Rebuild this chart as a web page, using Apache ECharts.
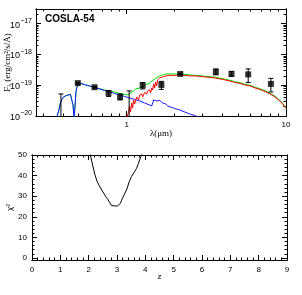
<!DOCTYPE html>
<html><head><meta charset="utf-8">
<script src="https://cdn.jsdelivr.net/npm/echarts@6/dist/echarts.min.js"></script>
<style>html,body{margin:0;padding:0;background:#fff}#c{width:302px;height:295px}</style>
</head><body><div id="c"></div>
<script>
// ---------- DATA ----------
const titleText = 'COSLA-54';

// Top panel (SED): wavelength in micron, flux in erg/cm2/s/A
const blueLambda = [0.363,0.376,0.384,0.394,0.401,0.413,0.428,0.444,0.454,0.461,0.468,0.475,0.481,0.488,0.499,0.514,0.529,0.553,0.585,0.629,0.676,0.727,0.782,0.840,0.904,0.971,1.044,1.123,1.207,1.297,1.395,1.436,1.457,1.478,1.500,1.521,1.544,1.566,1.613,1.636,1.660,1.684,1.759,1.811,1.864,2.004,2.155,2.317,2.491,2.678,2.80];
const blueFlux = [0.85e-20,1.57e-20,2.65e-20,3.58e-20,4.16e-20,4.48e-20,4.83e-20,5.02e-20,4.48e-20,2.28e-20,0.85e-20,2.28e-20,6.05e-20,8.81e-20,1.063e-19,1.146e-19,1.103e-19,1.023e-19,9.49e-20,8.5e-20,7.58e-20,6.77e-20,6.05e-20,5.41e-20,4.83e-20,4.32e-20,3.86e-20,3.45e-20,3.08e-20,2.65e-20,2.28e-20,2.12e-20,2.65e-20,3.32e-20,3.08e-20,3.58e-20,3.08e-20,3.45e-20,3.2e-20,2.86e-20,3.08e-20,2.65e-20,2.46e-20,2.12e-20,2.04e-20,1.75e-20,1.57e-20,1.35e-20,1.16e-20,1.04e-20,0.93e-20];

const greenLambda = [0.363,0.376,0.384,0.394,0.413,0.444,0.454,0.461,0.468,0.475,0.481,0.488,0.499,0.514,0.553,0.629,0.727,0.782,0.840,0.904,0.971,1.015,1.044,1.091,1.139,1.207,1.261,1.317,1.395,1.457,1.521,1.613,1.684,1.759,1.864,2.004,2.155,2.317,2.491,2.678,2.879,3.095,3.327,3.577,3.846,4.135,4.445,4.779,5.138,5.523,5.938,6.384,6.863,7.378,7.932,8.527,8.90,9.29,9.57,9.86,10.0];
const greenFlux = [0.85e-20,1.57e-20,2.65e-20,3.58e-20,4.48e-20,5.02e-20,4.48e-20,2.28e-20,0.85e-20,2.28e-20,6.05e-20,8.81e-20,1.063e-19,1.146e-19,1.023e-19,8.5e-20,7.03e-20,6.53e-20,6.05e-20,5.41e-20,5.02e-20,4.83e-20,5.21e-20,6.05e-20,7.58e-20,8.17e-20,8.81e-20,1.023e-19,1.189e-19,1.43e-19,1.66e-19,2.01e-19,2.17e-19,2.33e-19,2.33e-19,2.33e-19,2.33e-19,2.25e-19,2.17e-19,2.09e-19,2.04e-19,1.96e-19,1.90e-19,1.82e-19,1.70e-19,1.57e-19,1.45e-19,1.30e-19,1.21e-19,1.08e-19,1.0e-19,8.6e-20,7.7e-20,6.6e-20,5.5e-20,4.4e-20,3.6e-20,3.0e-20,2.5e-20,2.0e-20,1.85e-20];

const redLambda = [1.0,1.029,1.044,1.059,1.075,1.091,1.106,1.123,1.156,1.190,1.207,1.243,1.261,1.297,1.336,1.355,1.395,1.415,1.436,1.457,1.478,1.500,1.521,1.544,1.566,1.613,1.684,1.759,1.864,2.004,2.155,2.317,2.491,2.678,2.879,3.095,3.327,3.577,3.846,4.135,4.445,4.779,5.138,5.523,5.938,6.384,6.863,7.378,7.932,8.527,8.90,9.29,9.57,9.86,10.0];
const redFlux = [0.85e-20,1.35e-20,2.12e-20,1.35e-20,2.65e-20,1.82e-20,3.32e-20,2.46e-20,4.16e-20,3.32e-20,4.83e-20,5.21e-20,4.16e-20,5.83e-20,5.21e-20,6.53e-20,7.03e-20,5.62e-20,8.17e-20,7.03e-20,1.103e-19,8.17e-20,1.28e-19,9.49e-20,1.49e-19,1.73e-19,1.86e-19,2.01e-19,2.09e-19,2.09e-19,2.17e-19,2.09e-19,2.01e-19,2.01e-19,1.94e-19,1.86e-19,1.80e-19,1.73e-19,1.61e-19,1.49e-19,1.38e-19,1.23e-19,1.146e-19,1.023e-19,9.49e-20,8.17e-20,7.29e-20,6.29e-20,5.21e-20,4.16e-20,3.45e-20,2.86e-20,2.37e-20,1.89e-20,1.75e-20];

// Photometry
const obsLambda = [0.494,0.629,0.770,0.910,1.261,1.652,2.17,3.63,4.55,5.79,8.04];
const obsFlux   = [1.17e-19,8.6e-20,5.62e-20,4.16e-20,9.85e-20,1.023e-19,2.33e-19,2.71e-19,2.33e-19,2.25e-19,1.103e-19];
const obsLow    = [1.10e-19,8.1e-20,4.32e-20,3.32e-20,7.58e-20,7.29e-20,2.20e-19,2.17e-19,1.94e-19,1.23e-19,6.05e-20];
const obsHigh   = [1.25e-19,9.1e-20,6.53e-20,5.21e-20,1.23e-19,1.33e-19,2.47e-19,3.39e-19,2.81e-19,3.39e-19,1.67e-19];
// Upper-limit style bars (top of bar)
const limLambda = [0.387,1.037];
const limTop    = [5.21e-20,6.53e-20];

// Bottom panel: chi^2 vs z
const zVals   = [2.03,2.06,2.10,2.15,2.22,2.30,2.38,2.46,2.55,2.62,2.69,2.74,2.80,2.85,2.90,2.96,3.02,3.08,3.12,3.16,3.21,3.28,3.35,3.43,3.51,3.60,3.69,3.76,3.82,3.87,3.90];
const chiVals = [53,50,47.5,44.5,40.5,37,35,33,31,29.5,28.2,27,25.5,24.9,25.3,25.4,25.2,25.5,26.5,28,29.5,31.5,33.5,37,39.5,41.5,43.5,46,48.5,50,52];

// Tick values / labels
const lamMajor = [1,10];
const lamMinor = [0.3,0.4,0.5,0.6,0.7,0.8,0.9,2,3,4,5,6,7,8,9];
const fluxMajor = [1e-20,1e-19,1e-18,1e-17];
const fluxMinor = [];
[1e-20,1e-19,1e-18,1e-17].forEach(d=>{for(let k=2;k<=9;k++) fluxMinor.push(k*d);});
const zMajor = [0,1,2,3,4,5,6,7,8,9];
const zMinor = [];
for(let i=0;i<45;i++){ if(i%5) zMinor.push(+(i*0.2).toFixed(1)); }
const chiMajor = [0,10,20,30,40,50];
const chiMinor = [];
for(let v=0;v<50;v+=2){ if(v%10) chiMinor.push(v); }

const LAM_MIN=0.27, LAM_MAX=10, F_MIN=1e-20, F_MAX=3e-17;
const Z_MIN=0, Z_MAX=9, CHI_MIN=-1, CHI_MAX=50;

// ---------- CHART ----------
const chart = echarts.init(document.getElementById('c'), null, {renderer:'canvas'});
const FONT = 'Liberation Sans';
const lineStyle = {color:'#000', width:1};
function powLabel(v){ const e=Math.round(Math.log10(v)); return '{b|10}{s|'+(e<0?'−':'')+Math.abs(e)+'}'; }

function axis(grid, type, min, max, pos, ticks, len, labels, extra){
  const a = {
    gridIndex:grid, type:type, min:min, max:max, position:pos,
    axisLine:{show:true, onZero:false, lineStyle:lineStyle},
    axisTick:{show:true, inside:true, length:len, customValues:ticks, lineStyle:lineStyle},
    axisLabel:labels ? Object.assign({show:true, customValues:labels, color:'#000', fontSize:8, fontFamily:FONT}, labels.opts||{}) : {show:false},
    splitLine:{show:false}, minorTick:{show:false}, minorSplitLine:{show:false},
    nameMoveOverlap:false,
    silent:true
  };
  if(type==='log') a.logBase=10;
  return Object.assign(a, extra||{});
}
function lbl(values, opts){ const v = values.slice(); v.opts = opts; return v; }

const xAxes = [
  axis(0,'log',LAM_MIN,LAM_MAX,'bottom',lamMajor,5,lbl(lamMajor,{margin:5,formatter:v=>String(Math.round(v))}),
       {name:'λ(μm)', nameLocation:'middle', nameGap:13, nameTextStyle:{fontSize:9, fontFamily:'Liberation Serif', color:'#000'}}),
  axis(0,'log',LAM_MIN,LAM_MAX,'bottom',lamMinor,2.5,null),
  axis(0,'log',LAM_MIN,LAM_MAX,'top',lamMajor,5,null),
  axis(0,'log',LAM_MIN,LAM_MAX,'top',lamMinor,2.5,null),
  axis(1,'value',Z_MIN,Z_MAX,'bottom',zMajor,5,lbl(zMajor,{margin:6,formatter:v=>String(v)}),
       {name:'z', nameLocation:'middle', nameGap:13, nameTextStyle:{fontSize:8, fontFamily:FONT, color:'#000'}}),
  axis(1,'value',Z_MIN,Z_MAX,'bottom',zMinor,2.5,null),
  axis(1,'value',Z_MIN,Z_MAX,'top',zMajor,5,null),
  axis(1,'value',Z_MIN,Z_MAX,'top',zMinor,2.5,null)
];
const yAxes = [
  axis(0,'log',F_MIN,F_MAX,'left',fluxMajor,5,lbl(fluxMajor,{margin:4,formatter:powLabel,
        rich:{b:{fontSize:9,fontFamily:FONT,color:'#000',verticalAlign:'bottom',padding:[3,0,0,0]},
              s:{fontSize:7,fontFamily:FONT,color:'#000',verticalAlign:'top'}}}),
       {name:'{a|F}{b|λ} (erg/cm²/s/Å)', nameLocation:'middle', nameGap:24,
        nameTextStyle:{fontSize:9, fontFamily:'Liberation Serif', color:'#000',
          rich:{a:{fontSize:9,fontFamily:'Liberation Serif',color:'#000'}, b:{fontSize:6,fontFamily:'Liberation Serif',color:'#000',padding:[3,0,0,0]}}}}),
  axis(0,'log',F_MIN,F_MAX,'left',fluxMinor,2.5,null),
  axis(0,'log',F_MIN,F_MAX,'right',fluxMajor,5,null),
  axis(0,'log',F_MIN,F_MAX,'right',fluxMinor,2.5,null),
  axis(1,'value',CHI_MIN,CHI_MAX,'left',chiMajor,5,lbl(chiMajor,{margin:5,formatter:v=>String(v)}),
       {name:'χ²', nameLocation:'middle', nameGap:18, nameTextStyle:{fontSize:8, fontFamily:FONT, color:'#000'}}),
  axis(1,'value',CHI_MIN,CHI_MAX,'left',chiMinor,2.5,null),
  axis(1,'value',CHI_MIN,CHI_MAX,'right',chiMajor,5,null),
  axis(1,'value',CHI_MIN,CHI_MAX,'right',chiMinor,2.5,null)
];

function zip(a,b){ return a.map((v,i)=>[v,b[i]]); }
function errRender(params, api){
  const x=api.value(0), lo=api.value(1), hi=api.value(2);
  const p1=api.coord([x,lo]), p2=api.coord([x,hi]); const w=2.5;
  const st={stroke:'#000', lineWidth:1};
  return {type:'group', children:[
    {type:'line', shape:{x1:p1[0],y1:p1[1],x2:p2[0],y2:p2[1]}, style:st},
    {type:'line', shape:{x1:p1[0]-w,y1:p1[1],x2:p1[0]+w,y2:p1[1]}, style:st},
    {type:'line', shape:{x1:p2[0]-w,y1:p2[1],x2:p2[0]+w,y2:p2[1]}, style:st}
  ]};
}
function limRender(params, api){
  const x=api.value(0), top=api.value(1);
  const p1=api.coord([x,F_MIN]), p2=api.coord([x,top]); const w=2.5;
  const st={stroke:'#000', lineWidth:1};
  return {type:'group', children:[
    {type:'line', shape:{x1:p1[0],y1:p1[1],x2:p2[0],y2:p2[1]}, style:st},
    {type:'line', shape:{x1:p2[0]-w,y1:p2[1],x2:p2[0]+w,y2:p2[1]}, style:st}
  ]};
}

const option = {
  animation:false,
  backgroundColor:'#fff',
  title:{text:titleText, left:45, top:14, padding:0, textStyle:{fontSize:10, fontWeight:'bold', fontFamily:FONT, color:'#000'}},
  grid:[
    {left:36, top:9, width:250, height:107, show:false, containLabel:false, outerBoundsMode:'none'},
    {left:32, top:155, width:255, height:105, show:false, containLabel:false, outerBoundsMode:'none'}
  ],
  xAxis:xAxes, yAxis:yAxes,
  series:[
    {type:'line', xAxisIndex:0, yAxisIndex:0, data:zip(greenLambda,greenFlux), showSymbol:false, lineStyle:{color:'#00e000',width:1}, z:2},
    {type:'line', xAxisIndex:0, yAxisIndex:0, data:zip(blueLambda,blueFlux), showSymbol:false, lineStyle:{color:'#1a1aff',width:1}, z:3},
    {type:'line', xAxisIndex:0, yAxisIndex:0, data:zip(redLambda,redFlux), showSymbol:false, lineStyle:{color:'#ff0000',width:1}, z:4},
    {type:'custom', xAxisIndex:0, yAxisIndex:0, renderItem:errRender, data:obsLambda.map((v,i)=>[v,obsLow[i],obsHigh[i]]), z:5, clip:true},
    {type:'custom', xAxisIndex:0, yAxisIndex:0, renderItem:limRender, data:zip(limLambda,limTop), z:5, clip:true},
    {type:'scatter', xAxisIndex:0, yAxisIndex:0, data:zip(obsLambda,obsFlux), symbol:'rect', symbolSize:6, itemStyle:{color:'#000'}, z:6},
    {type:'line', xAxisIndex:4, yAxisIndex:4, data:zip(zVals,chiVals), showSymbol:false, lineStyle:{color:'#000',width:1}, clip:true}
  ]
};
chart.setOption(option);
</script>
</body></html>
